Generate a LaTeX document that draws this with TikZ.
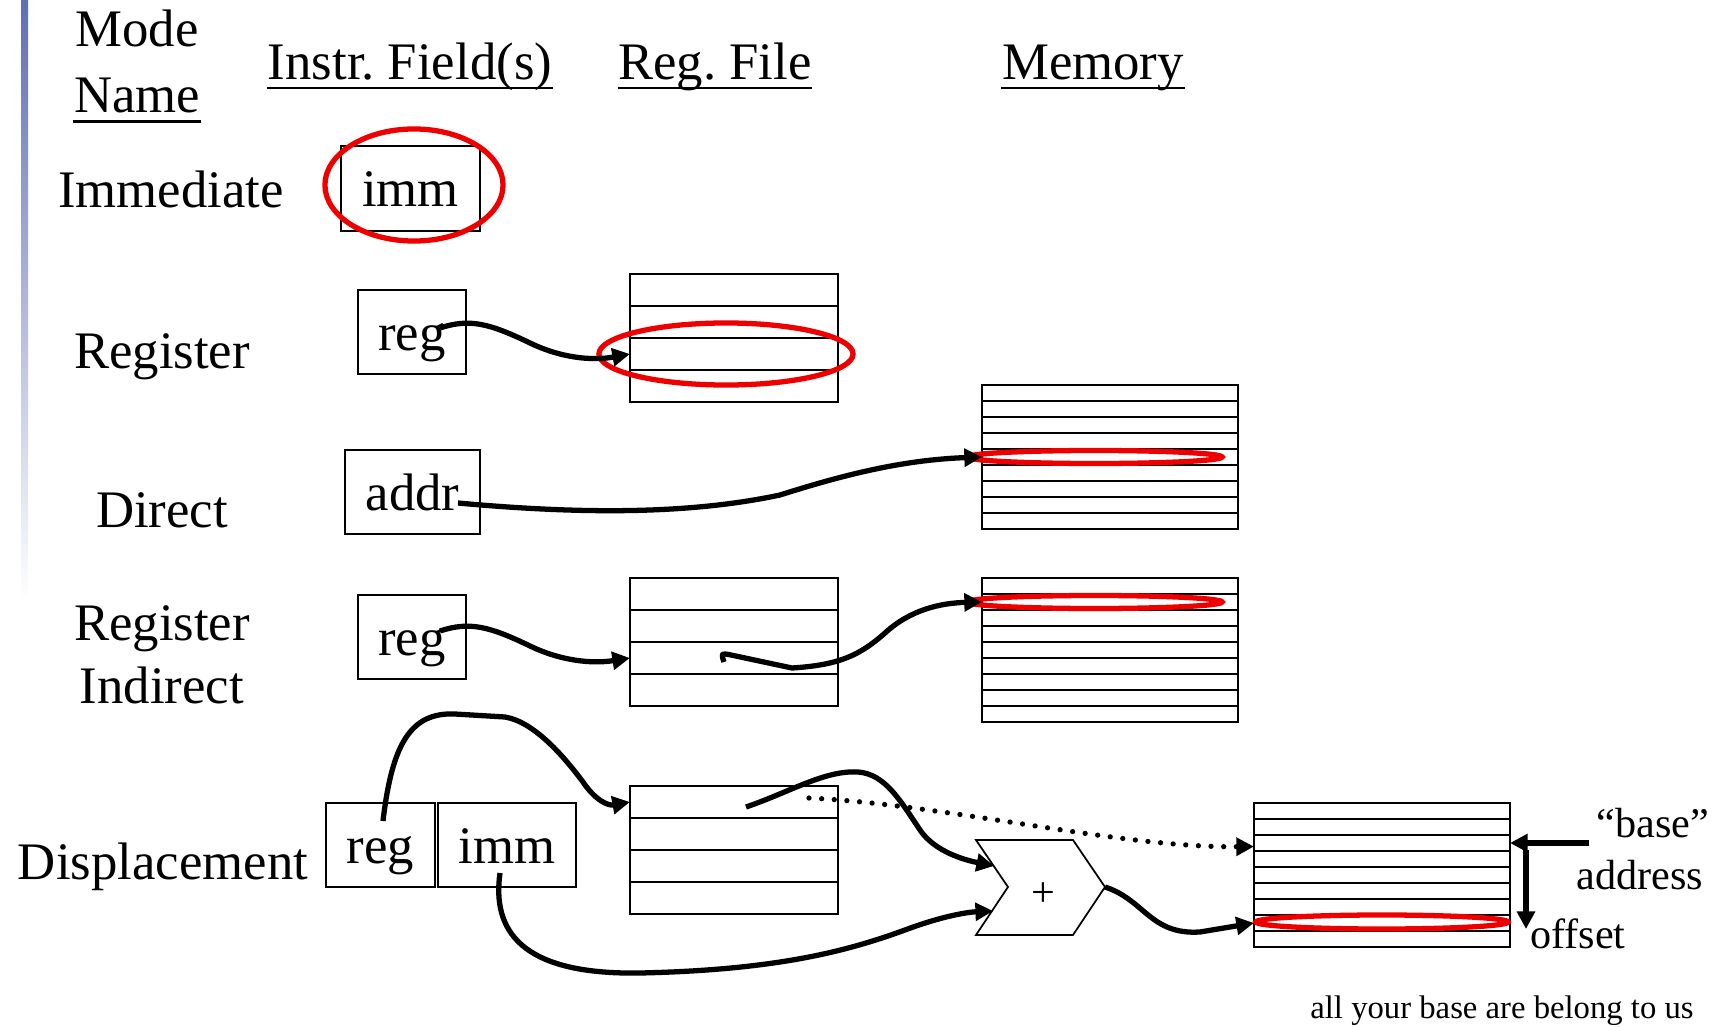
\documentclass[tikz,border=0pt]{standalone}
\usepackage{fontspec}
\setmainfont{Liberation Serif}
\usetikzlibrary{arrows.meta}

\definecolor{slidebar}{RGB}{96,110,182}
\definecolor{ringred}{RGB}{238,0,0}

\begin{document}
\begin{tikzpicture}[
    x=0.01cm, y=-0.01cm,
    every node/.style={font=\fontsize{15}{18}\selectfont, inner sep=0pt},
    lbl/.style={anchor=base},
    field/.style={draw, line width=0.57pt, minimum height=0.84cm, text height=1.15em, text depth=0.1em},
    rfcell/.style={outer sep=0pt, minimum width=2.08cm, minimum height=0.32cm},
    memcell/.style={outer sep=0pt, minimum width=2.56cm, minimum height=0.16cm},
    grid/.style={line width=0.57pt},
    ring/.style={draw=ringred, line width=1.5pt},
    wire/.style={line width=1.5pt, line join=round, -{Triangle[length=5pt,width=5pt]}},
    dotwire/.style={wire, line cap=round, dash pattern=on 0pt off 3.6pt},
    uline/.style={line width=0.8pt}
]
\useasboundingbox (0,0) rectangle (1717,1027);
\shade[top color=slidebar, bottom color=white] (21,0) rectangle (28,600);

% column heads
\node[lbl] (mode) at (137,47) {Mode};
\node[lbl] (name) at (137,112) {Name};
\node[lbl] (hdrfield) at (410,80) {Instr.\ Field(s)};
\node[lbl] (hdrreg) at (715,80) {Reg.\ File};
\node[lbl] (hdrmem) at (1093,80) {Memory};
\draw[uline] ([yshift=-2.6pt]name.base west) -- ([yshift=-2.6pt]name.base east);
\draw[uline] ([yshift=-2.3pt]hdrfield.base west) -- ([yshift=-2.3pt]hdrfield.base east);
\draw[uline] ([yshift=-2.3pt]hdrreg.base west) -- ([yshift=-2.3pt]hdrreg.base east);
\draw[uline] ([yshift=-2.3pt]hdrmem.base west) -- ([yshift=-2.3pt]hdrmem.base east);

% mode names
\node[lbl] (immlbl) at (171,207) {Immediate};
\node[lbl] (reglbl) at (162,368) {Register};
\node[lbl] (dirlbl) at (162,527) {Direct};
\node[lbl] (rilbl) at (162,640) {Register};
\node[lbl] (rilblb) at (162,703) {Indirect};
\node[lbl] (displbl) at (163,879) {Displacement};

% instruction fields
\node[field, minimum width=1.39cm] (immbox) at (410.5,188.5) {imm};
\node[field, minimum width=1.08cm] (regA) at (412,332) {reg};
\node[field, minimum width=1.35cm] (addrbox) at (412.5,492) {addr};
\node[field, minimum width=1.08cm] (regB) at (412,637) {reg};
\node[field, minimum width=1.09cm] (regC) at (380.5,845) {reg};
\node[field, minimum width=1.38cm] (immC) at (507,845) {imm};

% register files and memories
\foreach \i in {1,...,4} {
  \node[rfcell] (rfA-\i) at (734,{274+32*(\i-0.5)}) {};
  \node[rfcell] (rfB-\i) at (734,{578+32*(\i-0.5)}) {};
  \node[rfcell] (rfC-\i) at (734,{786+32*(\i-0.5)}) {};
}
\foreach \i in {1,...,9} {
  \node[memcell] (memA-\i) at (1110,{385+16*(\i-0.5)}) {};
  \node[memcell] (memB-\i) at (1110,{578+16*(\i-0.5)}) {};
  \node[memcell] (memC-\i) at (1382,{803+16*(\i-0.5)}) {};
}
\foreach \s in {rfA,rfB,rfC} {
  \draw[grid] (\s-1.north west) rectangle (\s-4.south east);
  \foreach \i in {1,2,3}
    \draw[grid] (\s-\i.south west) -- (\s-\i.south east);
}
\foreach \s in {memA,memB,memC} {
  \draw[grid] (\s-1.north west) rectangle (\s-9.south east);
  \foreach \i in {1,...,8}
    \draw[grid] (\s-\i.south west) -- (\s-\i.south east);
}

% adder
\draw[line width=0.5pt] (976,840) -- (1073,840) -- (1105,887) -- (1073,935) -- (976,935) -- (1008,887) -- cycle;
\node[font=\fontsize{12}{14}\selectfont] (plus) at (1043,895) {+};
\coordinate (addin1) at (994,866);
\coordinate (addin2) at (993,911);
\coordinate (addout) at (1105,887);

% red rings
\draw[ring] (414,185) ellipse [x radius=0.89cm, y radius=0.56cm];
\draw[ring] (726,354) ellipse [x radius=1.27cm, y radius=0.31cm];
\draw[ring] (1095,457) ellipse [x radius=1.27cm, y radius=0.065cm];
\draw[ring] (1095,602) ellipse [x radius=1.27cm, y radius=0.065cm];
\draw[ring] (1382,922) ellipse [x radius=1.26cm, y radius=0.07cm];

% start points of the wires
\coordinate (srcA) at (440,328);
\coordinate (srcB) at (458,503);
\coordinate (srcC) at (440,631);
\coordinate (ptrB) at (724,662);
\coordinate (srcD) at (383,821);
\coordinate (ptrC) at (746,807);
\coordinate (baseC) at (809,798);
\coordinate (srcE) at (500,873);

% wires
\draw[wire] (srcA) .. controls (470,318) and (490,324) .. (528,342) .. controls (560,358) and (592,361) .. (rfA-3.west);
\draw[wire] (srcB) .. controls (600,516) and (700,512) .. (780,495) .. controls (840,476) and (900,460) .. (memA-5.west);
\draw[wire] (srcC) .. controls (470,621) and (490,627) .. (528,645) .. controls (560,661) and (592,664) .. (rfB-3.west);
\draw[wire] (ptrB) .. controls (721,653) .. (731,655) -- (792,668) .. controls (840,665) and (860,655) .. (885,633) .. controls (910,610) and (940,603) .. (memB-2.west);
\draw[wire] (srcD) .. controls (392,745) and (410,712) .. (455,714) -- (505,717) .. controls (535,722) and (565,758) .. (583,782) .. controls (595,800) and (608,806) .. (rfC-1.west);
\draw[wire] (ptrC) .. controls (790,792) and (825,770) .. (858,772) .. controls (885,774) and (900,800) .. (920,830) .. controls (935,852) and (965,860) .. (addin1);
\draw[dotwire] (baseC) .. controls (950,805) and (1120,848) .. ([yshift=-1pt]memC-3.west);
\draw[wire] (srcE) .. controls (492,930) and (520,975) .. (640,973) .. controls (780,970) and (850,950) .. (905,930) .. controls (945,915) and (970,912) .. (addin2);
\draw[wire] (addout) .. controls (1145,900) and (1150,935) .. (1200,932) -- (memC-8.west);

% base + offset
\coordinate (basetail) at (1589,843);
\coordinate (offtop) at (1526,850);
\coordinate (offbot) at (1526,929);
\draw[wire] (basetail) -- (memC-3.east);
\draw[wire] (offtop) -- (offbot);
\node[lbl, font=\fontsize{12}{14}\selectfont] (baselbl) at (1653,837) {“base”};
\node[lbl, font=\fontsize{12}{14}\selectfont] (addrlbl) at (1640,889) {address};
\node[lbl, font=\fontsize{12}{14}\selectfont] (offlbl) at (1578,948) {offset};
\node[lbl, font=\fontsize{9.3}{11}\selectfont] (motto) at (1502,1018) {all your base are belong to us};
\end{tikzpicture}
\end{document}
